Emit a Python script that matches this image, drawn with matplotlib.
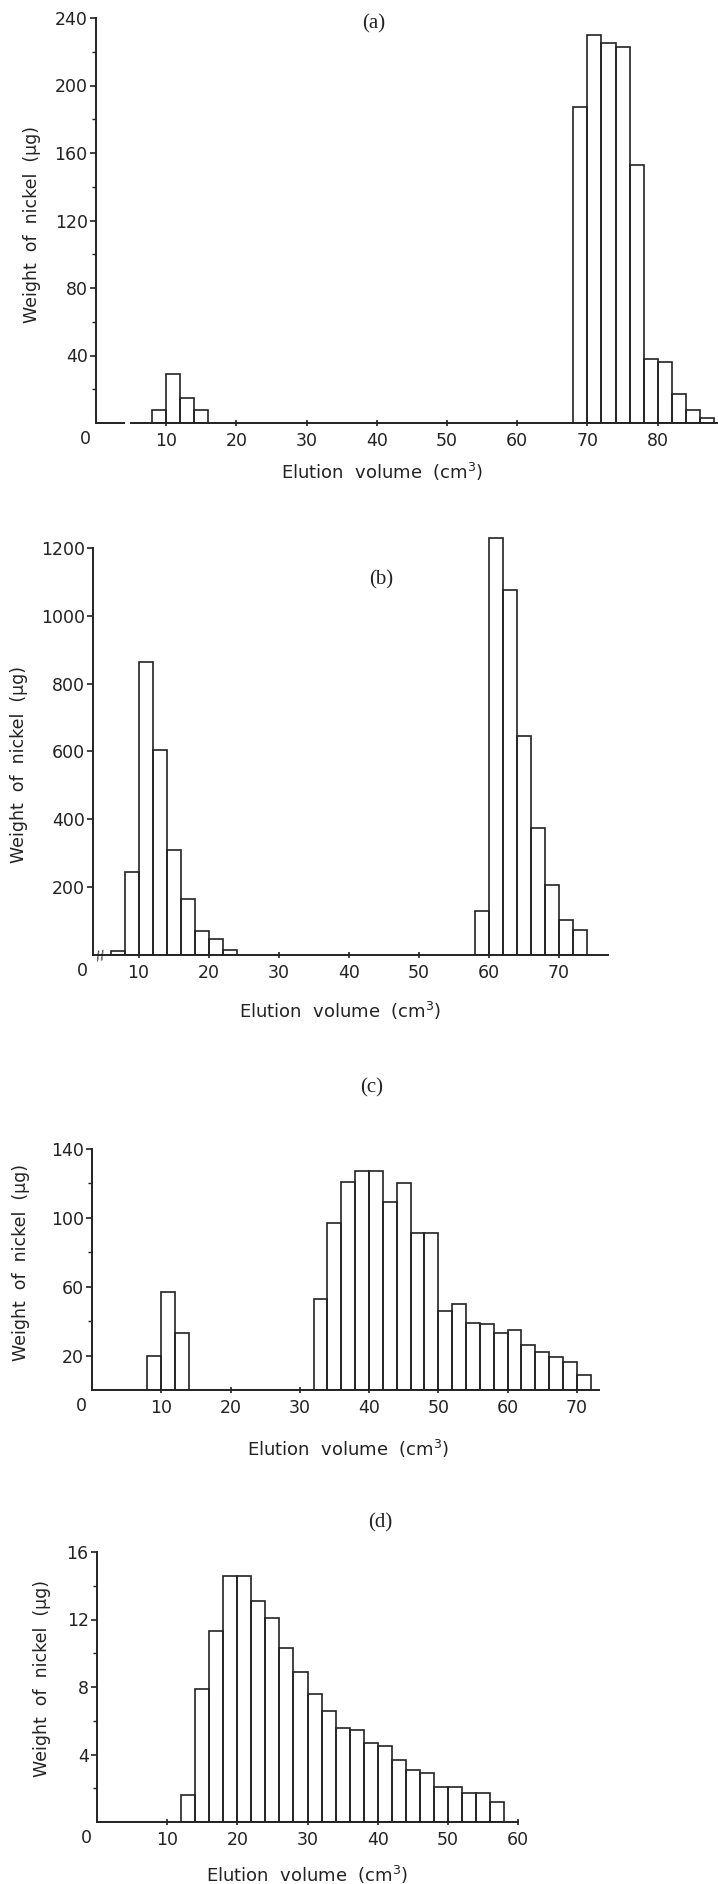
import matplotlib
matplotlib.use("Agg")
import matplotlib.pyplot as plt
import numpy as np

# panel (a): 2 cm3 fractions
a_left = [8, 10, 12, 14, 68, 70, 72, 74, 76, 78, 80, 82, 84, 86]
a_ni = [8, 29, 15, 8, 187, 230, 225, 223, 153, 38, 36, 17, 8, 3]

# panel (b)
b_left = [6, 8, 10, 12, 14, 16, 18, 20, 22, 58, 60, 62, 64, 66, 68, 70, 72]
b_ni = [13, 245, 865, 605, 310, 165, 70, 48, 14, 130, 1228, 1075, 645, 375, 205, 102, 73]

# panel (c)
c_left = [8, 10, 12] + list(range(32, 72, 2))
c_ni = [20, 57, 33,
        53, 97, 121, 127, 127, 109, 120, 91, 91, 46,
        50, 39, 38.5, 33, 35, 26, 22, 19, 16, 9]

# panel (d)
d_left = list(range(12, 58, 2))
d_ni = [1.6, 7.9, 11.3, 14.6, 14.6, 13.1, 12.1, 10.3, 8.9, 7.6, 6.6, 5.6,
        5.45, 4.7, 4.5, 3.7, 3.1, 2.9, 2.1, 2.1, 1.7, 1.7, 1.2]

W, H = 718, 1884
fig = plt.figure(figsize=(W / 100, H / 100), dpi=100)
fig.patch.set_facecolor("white")

font = ["Liberation Sans Narrow", "DejaVu Sans"]
serif = ["Liberation Serif", "DejaVu Serif"]
ink = "#222222"
xlabel = "Elution  volume  (cm$^3$)"
ylabel = "Weight  of  nickel  (\u03bcg)"


def make_axes(x0, x1, y0, y1):
    # pixel box -> figure fraction
    return fig.add_axes([x0 / W, 1 - y1 / H, (x1 - x0) / W, (y1 - y0) / H])


def style(ax, xt, yt, ymin_ticks=None):
    for s in ["top", "right"]:
        ax.spines[s].set_visible(False)
    for s in ["left", "bottom"]:
        ax.spines[s].set_color(ink)
        ax.spines[s].set_linewidth(1.4)
    ax.set_xticks(xt)
    ax.set_xticklabels([str(v) for v in xt], fontsize=12.5, family=font, color=ink)
    ax.set_yticks(yt)
    ax.set_yticklabels([str(v) for v in yt], fontsize=12.5, family=font, color=ink)
    if ymin_ticks is not None:
        ax.set_yticks(ymin_ticks, minor=True)
    ax.tick_params(axis="x", direction="inout", length=5, width=1.2, color=ink, pad=4)
    ax.tick_params(axis="y", direction="out", length=4, width=1.2, color=ink, pad=2)
    ax.tick_params(axis="y", which="minor", direction="out", length=3, width=1.0, color=ink)
    ax.annotate("0", xy=(0, 0), xycoords="axes fraction", xytext=(-11, -7),
                textcoords="offset pixels", ha="center", va="top",
                fontsize=12.5, family=font, color=ink)


def labels(ax, xc, xpad, ylx, yly):
    ax.set_xlabel(xlabel, fontsize=13, family=font, color=ink, labelpad=xpad)
    ax.xaxis.label.set_x(xc)
    ax.set_ylabel(ylabel, fontsize=12.5, family=font, color=ink)
    ax.yaxis.set_label_coords(ylx, yly)


def bars(ax, left, vals):
    ax.bar(left, vals, width=2, align="edge", fill=False, edgecolor=ink, linewidth=1.2)


# ---- (a)
ax = make_axes(96, 718, 18, 423)
bars(ax, a_left, a_ni)
ax.set_xlim(0, 88.6)
ax.set_ylim(0, 240)
style(ax, [10, 20, 30, 40, 50, 60, 70, 80], [40, 80, 120, 160, 200, 240],
      [20, 60, 100, 140, 180, 220])
ax.spines["bottom"].set_bounds(5, 88.6)
ax.hlines(0, 0, 4.2, color=ink, lw=1.4, clip_on=False)
labels(ax, 0.46, 8, -0.088, 0.49)
ax.text(0.446, 0.985, "(a)", transform=ax.transAxes, ha="center", va="center",
        fontsize=15, family=serif, color=ink)

# ---- (b)
ax = make_axes(93, 608, 531, 955)
bars(ax, b_left, b_ni)
ax.set_xlim(3.5, 77)
ax.set_ylim(0, 1250)
style(ax, [10, 20, 30, 40, 50, 60, 70], [200, 400, 600, 800, 1000, 1200])
ax.spines["left"].set_bounds(0, 1200)
ax.annotate("//", xy=(4.6, 0), xycoords="data", ha="center", va="center",
            fontsize=9, family=font, color=ink, rotation=10)
labels(ax, 0.48, 13, -0.126, 0.45)
ax.text(0.56, 0.885, "(b)", transform=ax.transAxes, ha="center", va="center",
        fontsize=15, family=serif, color=ink)

# ---- (c)
ax = make_axes(92, 599, 1149, 1390)
bars(ax, c_left, c_ni)
ax.set_xlim(0, 73.2)
ax.set_ylim(0, 140)
style(ax, [10, 20, 30, 40, 50, 60, 70], [20, 60, 100, 140], [40, 80, 120])
labels(ax, 0.505, 15, -0.122, 0.53)
fig.text(372 / W, 1 - 1088 / H, "(c)", ha="center", va="center",
         fontsize=15, family=serif, color=ink)

# ---- (d)
ax = make_axes(97, 518, 1552, 1822)
bars(ax, d_left, d_ni)
ax.set_xlim(0, 60)
ax.set_ylim(0, 16)
style(ax, [10, 20, 30, 40, 50, 60], [4, 8, 12, 16], [2, 6, 10, 14])
labels(ax, 0.5, 11, -0.109, 0.53)
fig.text(380 / W, 1 - 1523 / H, "(d)", ha="center", va="center",
         fontsize=15, family=serif, color=ink)

fig.savefig("out.png", dpi=100, facecolor="white")
